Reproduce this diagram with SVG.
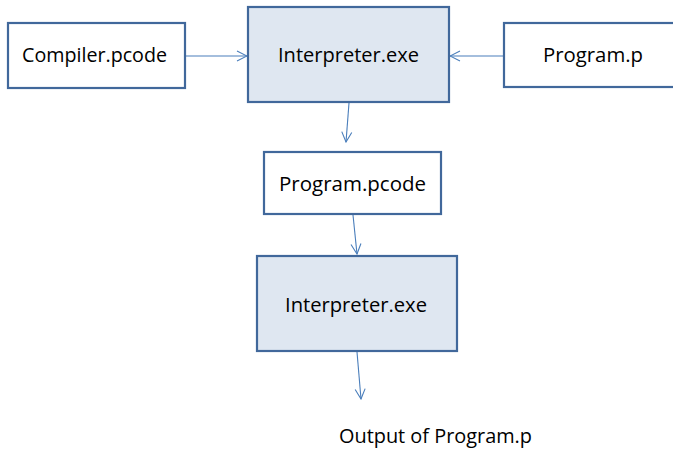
<svg xmlns="http://www.w3.org/2000/svg" width="673" height="450" viewBox="0 0 673 450">
  <style>
    .box { fill: #ffffff; stroke: #41689b; stroke-width: 2.2; }
    .exe { fill: #dfe7f1; stroke: #41689b; stroke-width: 2.2; }
    .lbl { font-family: "Open Sans", "Noto Sans", "Liberation Sans", sans-serif; font-size: 20px; fill: #000000; text-anchor: middle; }
    .edge { stroke: #4a7ebb; stroke-width: 1.1; fill: none; marker-end: url(#arrow); }
  </style>
  <defs>
    <marker id="arrow" viewBox="0 0 12 12" refX="11" refY="6" markerWidth="12" markerHeight="12" markerUnits="userSpaceOnUse" orient="auto">
      <path d="M1 1 L11 6 L1 11" fill="none" stroke="#4a7ebb" stroke-width="1.1"/>
    </marker>
  </defs>

  <g id="connectors">
    <line class="edge" x1="185" y1="56" x2="247" y2="56"/>
    <line class="edge" x1="504" y1="56" x2="450" y2="56"/>
    <line class="edge" x1="349" y1="103" x2="346" y2="142"/>
    <line class="edge" x1="353" y1="215" x2="357" y2="254"/>
    <line class="edge" x1="357" y1="352" x2="361" y2="399"/>
  </g>

  <g id="compiler-pcode">
    <rect class="box" x="8" y="23" width="177" height="65"/>
    <text class="lbl" x="94.5" y="62" textLength="145" lengthAdjust="spacingAndGlyphs">Compiler.pcode</text>
  </g>

  <g id="interpreter-top">
    <rect class="exe" x="248" y="7" width="201" height="95"/>
    <text class="lbl" x="348.5" y="62" textLength="141" lengthAdjust="spacingAndGlyphs">Interpreter.exe</text>
  </g>

  <g id="program-p">
    <rect class="box" x="504" y="23" width="180" height="64"/>
    <text class="lbl" x="593" y="62" textLength="100" lengthAdjust="spacingAndGlyphs">Program.p</text>
  </g>

  <g id="program-pcode">
    <rect class="box" x="264" y="152" width="177" height="62"/>
    <text class="lbl" x="352.5" y="191" textLength="147" lengthAdjust="spacingAndGlyphs">Program.pcode</text>
  </g>

  <g id="interpreter-bottom">
    <rect class="exe" x="257" y="256" width="200" height="95"/>
    <text class="lbl" x="356" y="312" textLength="142" lengthAdjust="spacingAndGlyphs">Interpreter.exe</text>
  </g>

  <g id="output">
    <text class="lbl" x="435.5" y="443" textLength="193" lengthAdjust="spacingAndGlyphs">Output of Program.p</text>
  </g>
</svg>
